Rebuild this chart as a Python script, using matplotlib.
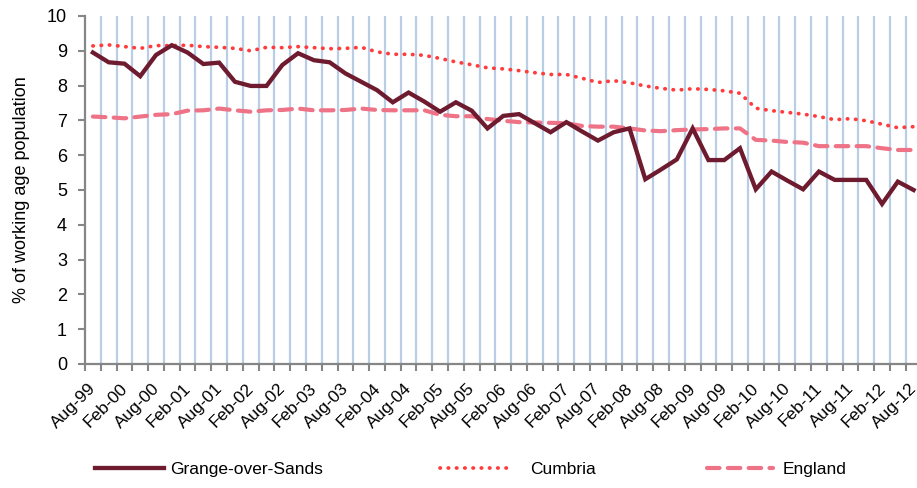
import matplotlib
matplotlib.use("Agg")
import matplotlib.pyplot as plt
import matplotlib.transforms as mtransforms
from matplotlib.lines import Line2D
import numpy as np

plt.rcParams['font.family'] = ['Liberation Sans', 'DejaVu Sans']

# quarterly categories Aug-99 .. Aug-12
categories = ['Aug-99', 'Nov-99', 'Feb-00', 'May-00', 'Aug-00', 'Nov-00', 'Feb-01', 'May-01',
              'Aug-01', 'Nov-01', 'Feb-02', 'May-02', 'Aug-02', 'Nov-02', 'Feb-03', 'May-03',
              'Aug-03', 'Nov-03', 'Feb-04', 'May-04', 'Aug-04', 'Nov-04', 'Feb-05', 'May-05',
              'Aug-05', 'Nov-05', 'Feb-06', 'May-06', 'Aug-06', 'Nov-06', 'Feb-07', 'May-07',
              'Aug-07', 'Nov-07', 'Feb-08', 'May-08', 'Aug-08', 'Nov-08', 'Feb-09', 'May-09',
              'Aug-09', 'Nov-09', 'Feb-10', 'May-10', 'Aug-10', 'Nov-10', 'Feb-11', 'May-11',
              'Aug-11', 'Nov-11', 'Feb-12', 'May-12', 'Aug-12']

grange = [8.95, 8.67, 8.63, 8.27, 8.88, 9.16, 8.95, 8.62, 8.66, 8.11,
          7.99, 7.99, 8.59, 8.93, 8.73, 8.67, 8.35, 8.11, 7.87, 7.52,
          7.80, 7.54, 7.25, 7.52, 7.28, 6.77, 7.13, 7.18, 6.92, 6.66,
          6.95, 6.68, 6.42, 6.66, 6.77, 5.31, 5.59, 5.88, 6.77, 5.86,
          5.86, 6.20, 5.02, 5.53, 5.27, 5.02, 5.53, 5.29, 5.29, 5.29,
          4.60, 5.24, 5.00]
cumbria = [9.14, 9.17, 9.12, 9.07, 9.15, 9.15, 9.16, 9.12, 9.10, 9.07,
           9.00, 9.10, 9.09, 9.12, 9.09, 9.06, 9.07, 9.10, 8.97, 8.90,
           8.90, 8.87, 8.78, 8.68, 8.60, 8.51, 8.48, 8.43, 8.37, 8.32,
           8.32, 8.21, 8.09, 8.14, 8.08, 7.99, 7.92, 7.87, 7.91, 7.89,
           7.85, 7.78, 7.35, 7.28, 7.23, 7.18, 7.11, 7.02, 7.05, 6.99,
           6.89, 6.79, 6.82]
england = [7.11, 7.09, 7.06, 7.11, 7.16, 7.18, 7.28, 7.29, 7.34, 7.29,
           7.25, 7.29, 7.30, 7.34, 7.29, 7.29, 7.30, 7.34, 7.30, 7.29,
           7.29, 7.29, 7.16, 7.12, 7.12, 7.04, 6.99, 6.95, 6.94, 6.93,
           6.92, 6.84, 6.82, 6.82, 6.77, 6.71, 6.69, 6.72, 6.74, 6.75,
           6.77, 6.77, 6.44, 6.42, 6.38, 6.36, 6.26, 6.26, 6.26, 6.26,
           6.20, 6.15, 6.15]
series_names = ['Grange-over-Sands', 'Cumbria', 'England']
y_ticks = list(range(0, 11))

W, H = 917, 488
fig = plt.figure(figsize=(W / 100, H / 100), dpi=100)
left, right, top, bottom = 85, 921.5, 16, 364
ax = fig.add_axes([left / W, 1 - bottom / H, (right - left) / W, (bottom - top) / H])

x = np.arange(len(categories))
n = len(categories)

# vertical gridlines at category boundaries
for b in np.arange(0.5, n - 0.5, 1.0):
    ax.axvline(b, color='#b9cde5', lw=1.6, zorder=1)

c_grange = '#6e1b2f'
c_cumbria = '#ff3b3b'
c_england = '#ef7386'

ax.plot(x, cumbria, color=c_cumbria, lw=2.7, linestyle=(0, (0.1, 2.1)),
        dash_capstyle='round', zorder=3)
ax.plot(x, england, color=c_england, lw=3.0, linestyle=(0, (3, 2)),
        dash_capstyle='round', zorder=3)
ax.plot(x, grange, color=c_grange, lw=3.1, solid_joinstyle='miter', zorder=4)

ax.set_xlim(-0.5, n - 0.5)
ax.set_ylim(0, 10)
ax.set_yticks(y_ticks)
ax.set_yticklabels([str(t) for t in y_ticks], fontsize=13)

# category labels (every second quarter), rotated 45 degrees
ax.set_xticks(x[::2])
ax.set_xticklabels([])
offset = mtransforms.ScaledTranslation(-4.5 / 100, -17 / 100, fig.dpi_scale_trans)
trans = ax.get_xaxis_transform() + offset
for xi, lab in zip(x[::2], categories[::2]):
    ax.text(xi, 0, lab, transform=trans, rotation=45, ha='right', va='top',
            rotation_mode='anchor', fontsize=12.5, clip_on=False)

ax.set_xticks(np.arange(-0.5, n, 1.0), minor=True)
ax.tick_params(axis='x', which='major', length=0)
ax.tick_params(axis='x', which='minor', length=5, width=1.5, color='#868686', direction='out')
ax.tick_params(axis='y', length=5, width=1.5, color='#868686', pad=8)

for s in ['top', 'right']:
    ax.spines[s].set_visible(False)
for s in ['left', 'bottom']:
    ax.spines[s].set_color('#868686')
    ax.spines[s].set_linewidth(1.6)

ax.set_ylabel('% of working age population', fontsize=13, labelpad=12)

# legend entries
handles = [
    Line2D([], [], color=c_grange, lw=3.1),
    Line2D([], [], color=c_cumbria, lw=2.7, linestyle=(0, (0.1, 2.1)), dash_capstyle='round'),
    Line2D([], [], color=c_england, lw=3.0, linestyle=(0, (3, 2)), dash_capstyle='round'),
]
xpos = [95, 440, 707]
hlen = [4.0, 4.2, 3.8]
hpad = [0.3, 1.0, 0.57]
for h, name, xp, hl, hp in zip(handles, series_names, xpos, hlen, hpad):
    fig.legend([h], [name], loc='center left', bbox_to_anchor=(xp / W, 1 - 469 / H),
               frameon=False, fontsize=12.5, handlelength=hl, handletextpad=hp,
               borderaxespad=0, borderpad=0)

fig.savefig('out.png', dpi=100)
